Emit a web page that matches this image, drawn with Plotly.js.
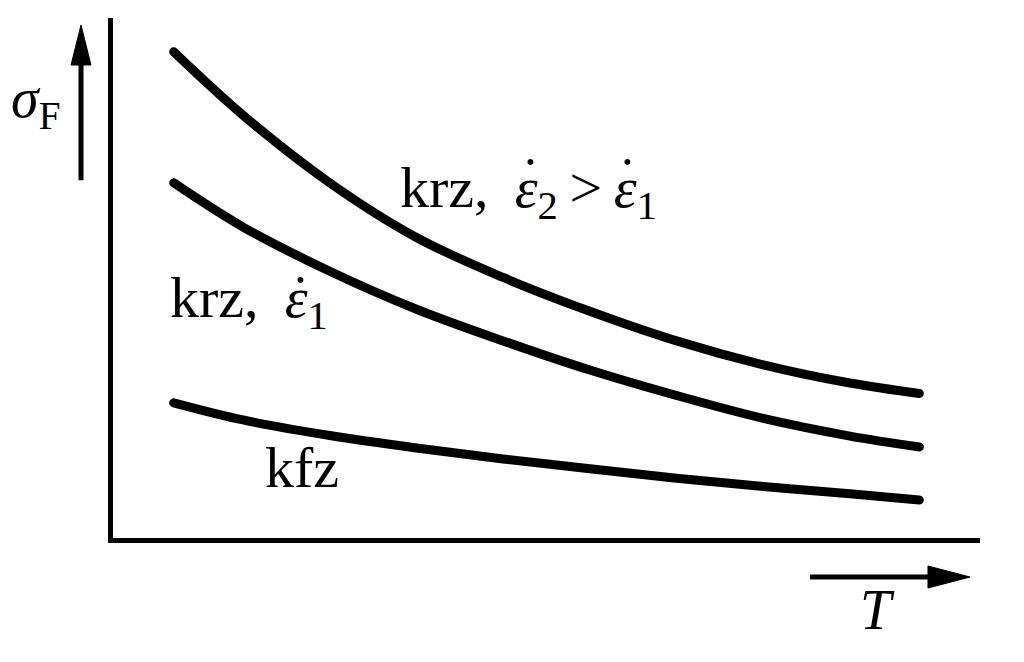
<!DOCTYPE html>
<html>
<head>
<meta charset="utf-8">
<script src="https://cdn.plot.ly/plotly-3.0.1.min.js"></script>
<style>
  html, body { margin: 0; padding: 0; background: #ffffff; }
  #chart { width: 1024px; height: 662px; }
  .js-line { stroke-linecap: round !important; stroke-linejoin: round !important; }
</style>
</head>
<body>
<div id="chart"></div>
<script>
// Temperature (arbitrary units, qualitative diagram)
const T = [7, 15, 25, 35, 45, 55, 65, 75, 85, 93];
// Flow stress, hot forming (krz) at higher strain rate eps2 > eps1
const sigmaKrzEps2 = [93.5, 81.3, 68.3, 57.8, 50.1, 43.6, 37.9, 33.3, 29.8, 27.8];
// Flow stress, hot forming (krz) at strain rate eps1
const sigmaKrzEps1 = [68.3, 59.8, 51.3, 44.0, 37.9, 32.3, 27.4, 23.0, 19.6, 17.5];
// Flow stress, cold forming (kfz)
const sigmaKfz = [26.0, 22.7, 19.7, 17.3, 15.2, 13.3, 11.5, 9.9, 8.5, 7.3];

const labelTop = 'krz,\u2009 <i>ε</i><sub>2</sub>\u2009>\u2009<i>ε</i><sub>1</sub>';
const labelMid = 'krz,\u2009 <i>ε</i><sub>1</sub>';
const labelLow = 'kfz';
const dotAbove = '\u02D9';
const yLabel = '<i>σ</i><sub>F</sub>';
const xLabel = '<i>T</i>';

const lineStyle = {color: '#000000', width: 9, shape: 'spline', smoothing: 1};
const traces = [
  {x: T, y: sigmaKrzEps2, mode: 'lines', line: lineStyle, hoverinfo: 'skip'},
  {x: T, y: sigmaKrzEps1, mode: 'lines', line: lineStyle, hoverinfo: 'skip'},
  {x: T, y: sigmaKfz, mode: 'lines', line: lineStyle, hoverinfo: 'skip'}
];

const fam = '"Liberation Serif", "DejaVu Serif", serif';
const font = {family: fam, size: 56, color: '#000000'};
const fontLbl = {family: fam, size: 58, color: '#000000'};

function ann(text, x, y, f, xanchor) {
  return {text: text, xref: 'paper', yref: 'paper', x: x, y: y,
          xanchor: xanchor || 'left', yanchor: 'middle', showarrow: false, font: f};
}

const layout = {
  width: 1024, height: 662,
  margin: {l: 113, r: 44, t: 18, b: 124, pad: 0},
  paper_bgcolor: '#ffffff', plot_bgcolor: '#ffffff',
  showlegend: false,
  font: font,
  xaxis: {range: [0, 100], showline: true, linewidth: 5, linecolor: '#000000',
          showgrid: false, zeroline: false, ticks: '', showticklabels: false, fixedrange: true},
  yaxis: {range: [0, 100], showline: true, linewidth: 5, linecolor: '#000000',
          showgrid: false, zeroline: false, ticks: '', showticklabels: false, fixedrange: true},
  annotations: [
    ann(labelTop, 0.329, 0.667, fontLbl),
    ann(dotAbove, 0.481, 0.692, font, 'center'),
    ann(dotAbove, 0.594, 0.692, font, 'center'),
    ann(labelMid, 0.0634, 0.454, fontLbl),
    ann(dotAbove, 0.2168, 0.4655, font, 'center'),
    ann(labelLow, 0.173, 0.1365, fontLbl),
    ann(yLabel, -0.12, 0.8385, font),
    ann(xLabel, 0.859, -0.138, font)
  ],
  shapes: [
    // up arrow (sigma)
    {type: 'line', xref: 'paper', yref: 'paper', x0: -0.0369, x1: -0.0369, y0: 0.688, y1: 0.92, line: {color: '#000', width: 5}},
    {type: 'path', xref: 'paper', yref: 'paper', path: 'M -0.0484,0.9096 L -0.0254,0.9096 L -0.0369,0.9865 Z', fillcolor: '#000', line: {color: '#000', width: 1}},
    // right arrow (T)
    {type: 'line', xref: 'paper', yref: 'paper', x0: 0.804, x1: 0.945, y0: -0.075, y1: -0.075, line: {color: '#000', width: 5}},
    {type: 'path', xref: 'paper', yref: 'paper', path: 'M 0.940,-0.0538 L 0.940,-0.0962 L 0.9885,-0.075 Z', fillcolor: '#000', line: {color: '#000', width: 1}}
  ]
};

Plotly.newPlot('chart', traces, layout, {staticPlot: true, displayModeBar: false});
</script>
</body>
</html>
